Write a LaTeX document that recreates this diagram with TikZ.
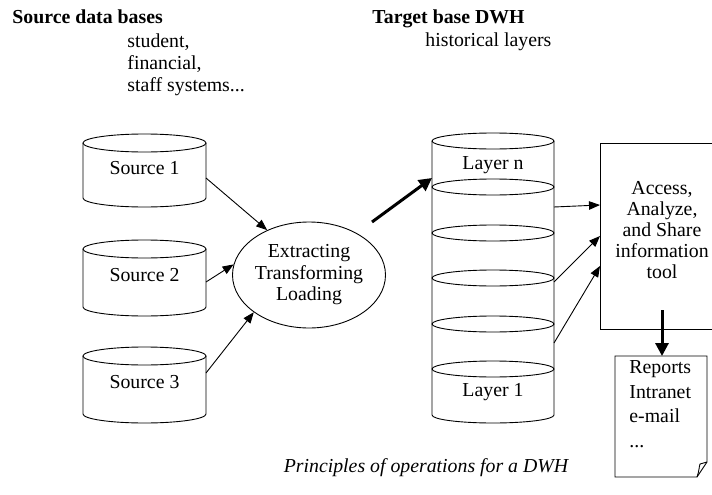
\documentclass[tikz,border=0pt]{standalone}
\usepackage{fontspec}
\setmainfont{Liberation Serif}
\usetikzlibrary{arrows.meta,shapes.geometric}

% open drum: side walls, lower rim and a full top ellipse
% #1 left x, #2 right x, #3 top rim y, #4 bottom rim y, #5 rim half-height
\newcommand\drumshape[5]{%
  \draw (#1,-#3) -- (#1,-#4)
        arc[start angle=180,end angle=360,x radius={(#2-#1)/2*1pt},y radius=#5pt]
        -- (#2,-#3);
  \draw ({(#1+#2)/2},-#3) ellipse[x radius={(#2-#1)/2*1pt},y radius=#5pt];
}
% inner rim of the layered store
\newcommand\drumrim[4]{%
  \draw ({(#1+#2)/2},-#3) ellipse[x radius={(#2-#1)/2*1pt},y radius=#4pt];
}

\begin{document}
\begin{tikzpicture}[x=1pt,y=1pt,
  every node/.style={font=\fontsize{19.8}{22.5}\selectfont},
  lbl/.style={inner sep=0pt},
  thin arrow/.style={line width=0.9pt,-{Triangle[length=11pt,width=8.5pt]}},
  thick arrow/.style={line width=3pt,-{Triangle[length=13pt,width=13pt]}},
  line width=0.9pt]
\useasboundingbox (0,0) rectangle (712,-495);

% headings
\node[lbl,anchor=base west,font=\fontsize{19.8}{22.5}\selectfont\bfseries] (srchead) at (12,-24) {Source data bases};
\node[lbl,anchor=base west] (srcl1) at (127,-48) {student,};
\node[lbl,anchor=base west] (srcl2) at (127,-70) {financial,};
\node[lbl,anchor=base west] (srcl3) at (127,-92) {staff systems...};
\node[lbl,anchor=base west,font=\fontsize{19.8}{22.5}\selectfont\bfseries] (dwhhead) at (372,-24) {Target base DWH};
\node[lbl,anchor=base west] (dwhsub) at (425,-47) {historical layers};

% source data bases
\drumshape{83}{206}{143}{198}{9}
\node[lbl] (src1) at (144.5,-168) {Source 1};
\drumshape{83}{206}{249}{307}{9}
\node[lbl] (src2) at (144.5,-275) {Source 2};
\drumshape{83}{206}{356}{414}{9}
\node[lbl] (src3) at (144.5,-382) {Source 3};
\coordinate (s1out) at (206,-178);
\coordinate (s2out) at (206,-282);
\coordinate (s3out) at (206,-373);

% ETL step
\node[draw,ellipse,minimum width=146pt,minimum height=106pt,inner sep=0pt,align=center,
      font=\fontsize{19.8}{21.5}\selectfont] (etl) at (309,-275)
      {Extracting\\Transforming\\Loading};

\draw[thin arrow] (s1out) -- (etl.133);
\draw[thin arrow] (s2out) -- (etl.172);
\draw[thin arrow] (s3out) -- (etl.214);

% layered warehouse store
\drumshape{432}{554}{141}{415}{8}
\foreach \yy in {187,233,278,324,369} {\drumrim{432}{554}{\yy}{8}}
\node[lbl] (layern) at (493,-165) {Layer n};
\node[lbl] (layer1) at (493,-392) {Layer 1};
\coordinate (etlout) at (372,-222);
\coordinate (dwhin) at (432,-178);
\draw[thick arrow] (etlout) -- (dwhin);

% analysis tool
\draw (600,-143) rectangle (714,-329);
\node[lbl,align=center,font=\fontsize{19.8}{21.2}\selectfont] (tool) at (662,-230)
  {Access,\\Analyze,\\and Share\\information\\tool};
\coordinate (l1) at (554,-207);
\coordinate (l2) at (554,-282);
\coordinate (l3) at (554,-343);
\coordinate (t1) at (600,-205);
\coordinate (t2) at (600,-236);
\coordinate (t3) at (600,-266);
\draw[thin arrow] (l1) -- (t1);
\draw[thin arrow] (l2) -- (t2);
\draw[thin arrow] (l3) -- (t3);

% output document with curled corner
\draw (615,-356) -- (707,-356) -- (707,-462) -- (697,-477) -- (615,-477) -- cycle;
\draw (697,-477) .. controls (699,-472) and (699,-467) .. (700,-464) -- (707,-462);
\node[lbl,align=left,anchor=north west,font=\fontsize{19.8}{24.6}\selectfont] (reports) at (629,-360)
  {Reports\\Intranet\\e-mail\\...};
\coordinate (toolout) at (662,-310);
\coordinate (repin) at (662,-356);
\draw[thick arrow] (toolout) -- (repin);

% caption
\node[lbl,anchor=base,font=\fontsize{19.8}{22.5}\selectfont\itshape] (caption) at (426,-472)
  {Principles of operations for a DWH};
\end{tikzpicture}
\end{document}
